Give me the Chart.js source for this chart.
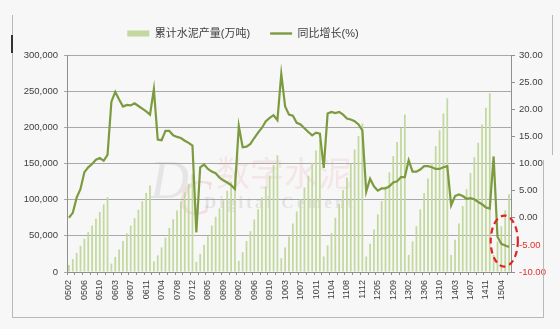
<!DOCTYPE html>
<html>
<head>
<meta charset="utf-8">
<script src="https://cdn.jsdelivr.net/npm/chart.js@4.4.0/dist/chart.umd.min.js"></script>
<style>
  html, body { margin: 0; padding: 0; background: #f7f7f7; }
  #wrap { position: relative; width: 560px; height: 329px; overflow: hidden; }
  .edge { position: absolute; background: #b9b9b9; }
</style>
</head>
<body>
<div id="wrap">
  <canvas id="cementChart" width="560" height="329"></canvas>
  <div class="edge" style="left:12px;top:15px;width:1px;height:302px"></div>
  <div class="edge" style="left:11px;top:35px;width:2px;height:18px;background:#333"></div>
  <div class="edge" style="left:12px;top:317px;width:532px;height:1px"></div>
  <div class="edge" style="left:552px;top:15px;width:1px;height:140px"></div>
  <div class="edge" style="left:543px;top:160px;width:1px;height:158px"></div>
</div>
<script>
// months reported (Jan is merged into Feb in the source data)
const years = ["05", "06", "07", "08", "09", "10", "11", "12", "13", "14"];
const fullMonths = ["02", "03", "04", "05", "06", "07", "08", "09", "10", "11", "12"];
const months2015 = ["02", "03", "04", "05", "06"];

// cumulative cement output, 10k tonnes
const prod2005 = [9800, 17700, 26300, 36200, 46000, 55000, 64200, 73500, 83000, 93500, 103500];
const prod2006 = [11600, 20900, 31200, 42800, 53500, 64200, 74400, 86100, 97700, 109300, 119600];
const prod2007 = [14500, 23000, 34000, 47500, 61000, 73000, 85000, 97500, 110000, 122000, 135000];
const prod2008 = [14000, 25100, 37700, 49300, 64200, 76300, 87900, 99100, 112100, 124700, 137000];
const prod2009 = [15400, 27300, 42800, 56500, 72500, 86600, 103000, 118000, 133500, 148000, 161500];
const prod2010 = [19100, 34000, 49000, 67000, 83600, 100500, 116800, 133100, 151000, 168000, 183000];
const prod2011 = [21400, 36800, 54000, 74900, 94500, 113500, 130800, 149400, 169400, 188000, 205200];
const prod2012 = [21400, 39100, 58600, 79600, 98200, 118200, 137800, 160100, 179700, 199200, 217800];
const prod2013 = [23700, 42300, 63300, 86600, 108900, 129400, 150800, 174000, 195900, 219200, 240100];
const prod2014 = [23700, 44700, 67000, 91200, 114500, 136800, 158700, 178700, 203800, 227100, 247100];
const prod2015 = [23500, 42000, 63300, 85200, 107500];

// year-on-year growth, %
const yoy2005 = [0.0, 0.9, 3.7, 5.3, 8.4, 9.3, 9.9, 10.7, 11.0, 10.5, 11.6];
const yoy2006 = [21.4, 23.2, 21.8, 20.5, 20.8, 20.7, 21.1, 20.6, 20.1, 19.6, 19.0];
const yoy2007 = [23.7, 14.4, 14.3, 16.0, 16.0, 15.2, 14.9, 14.7, 14.2, 13.8, 13.3];
const yoy2008 = [-2.7, 9.3, 9.8, 9.0, 8.5, 8.2, 7.4, 6.9, 6.5, 6.0, 5.3];
const yoy2009 = [16.9, 13.0, 13.1, 13.6, 14.7, 15.7, 16.6, 17.8, 18.4, 18.9, 18.0];
const yoy2010 = [26.5, 20.5, 19.0, 18.8, 17.5, 17.2, 16.5, 15.8, 15.2, 15.7, 15.5];
const yoy2011 = [9.2, 19.2, 19.5, 19.3, 19.5, 19.0, 18.3, 18.1, 17.8, 17.2, 16.1];
const yoy2012 = [4.8, 7.2, 5.8, 5.0, 5.4, 5.4, 5.8, 6.5, 6.7, 7.5, 7.5];
const yoy2013 = [10.6, 8.5, 8.5, 8.9, 9.5, 9.5, 9.3, 9.0, 9.0, 9.3, 9.5];
const yoy2014 = [2.3, 4.0, 4.3, 4.0, 3.5, 3.6, 3.4, 2.9, 2.5, 1.9, 1.7];
const yoy2015 = [11.3, -3.5, -4.8, -5.1, -5.4];

const leftTicks = { min: 0, max: 300000, step: 50000 };
const rightTicks = { min: -10, max: 30, step: 5 };

const labels = [];
years.forEach(y => fullMonths.forEach(m => labels.push(y + m)));
months2015.forEach(m => labels.push("15" + m));

const production = [].concat(prod2005, prod2006, prod2007, prod2008, prod2009, prod2010,
    prod2011, prod2012, prod2013, prod2014, prod2015);
const growth = [].concat(yoy2005, yoy2006, yoy2007, yoy2008, yoy2009, yoy2010,
    yoy2011, yoy2012, yoy2013, yoy2014, yoy2015);

const barColor = "#c2d89c";
const lineColor = "#7c9b3f";
const axisColor = "#8f8f8f";
const textColor = "#404040";
const font = "'Liberation Sans', 'Noto Sans CJK SC', sans-serif";

// legend spacing and position like the Excel original
const legendTweak = {
    id: "legendTweak",
    beforeInit(chart) {
        const fit = chart.legend.fit;
        chart.legend.fit = function () {
            fit.call(this);
            this.height += 6;
        };
    },
    afterLayout(chart) {
        chart.legend.left -= 37;
        chart.legend.right -= 37;
    }
};

// faint site watermark behind the data
const watermark = {
    id: "watermark",
    beforeDatasetsDraw(chart) {
        const ctx = chart.ctx;
        ctx.save();
        ctx.textBaseline = "alphabetic";
        ctx.fillStyle = "rgba(160,160,160,0.2)";
        ctx.font = "italic 54px 'Liberation Serif'";
        ctx.fillText("D", 150, 198);
        ctx.fillStyle = "rgba(225,120,135,0.2)";
        ctx.font = "italic 50px 'Liberation Serif'";
        ctx.fillText("C", 178, 214);
        ctx.font = "34px 'Noto Sans CJK SC'";
        ctx.fillStyle = "rgba(230,140,150,0.17)";
        ctx.fillText("数字水泥", 216, 186);
        ctx.font = "bold 17px 'Liberation Serif'";
        ctx.fillStyle = "rgba(150,150,150,0.2)";
        ctx.letterSpacing = "3px";
        ctx.fillText("Digital Cement", 204, 208);
        ctx.restore();
    }
};

// red dashed ring around the latest 2015 readings
const highlight = {
    id: "highlight",
    afterDatasetsDraw(chart) {
        const x = chart.scales.x;
        const y1 = chart.scales.y1;
        const cx = (x.getPixelForValue(112) + x.getPixelForValue(113)) / 2 + 1;
        const cy = y1.getPixelForValue(-4.3);
        const rx = x.getPixelForValue(113) - x.getPixelForValue(110) + 2;
        const ry = y1.getPixelForValue(-9) - cy;
        const ctx = chart.ctx;
        ctx.save();
        ctx.strokeStyle = "#e3231f";
        ctx.lineWidth = 2.2;
        ctx.setLineDash([6, 4]);
        ctx.beginPath();
        ctx.ellipse(cx, cy, rx, ry, 0, 0, Math.PI * 2);
        ctx.stroke();
        ctx.restore();
    }
};

new Chart(document.getElementById("cementChart").getContext("2d"), {
    data: {
        labels,
        datasets: [
            {
                type: "bar",
                label: "累计水泥产量(万吨)",
                data: production,
                backgroundColor: barColor,
                borderWidth: 0,
                barPercentage: 0.45,
                categoryPercentage: 1,
                yAxisID: "y",
                order: 1
            },
            {
                type: "line",
                label: "同比增长(%)",
                data: growth,
                borderColor: lineColor,
                borderWidth: 2.2,
                pointRadius: 0,
                pointBorderWidth: 2,
                pointBorderColor: lineColor,
                tension: 0,
                yAxisID: "y1",
                order: 0
            }
        ]
    },
    options: {
        responsive: false,
        animation: false,
        layout: { padding: { top: 8, left: 0, right: 0, bottom: 0 } },
        plugins: {
            tooltip: { enabled: false },
            legend: {
                position: "top",
                labels: {
                    usePointStyle: true,
                    pointStyleWidth: 22,
                    boxHeight: 6,
                    padding: 20,
                    color: textColor,
                    font: { size: 11, family: font },
                    sort: (a, b) => a.datasetIndex - b.datasetIndex,
                    generateLabels(chart) {
                        const items = Chart.defaults.plugins.legend.labels.generateLabels(chart);
                        items.forEach(it => {
                            const ds = chart.data.datasets[it.datasetIndex];
                            if (ds.type === "line") {
                                it.pointStyle = "line";
                                it.strokeStyle = lineColor;
                                it.lineWidth = 2.4;
                            } else {
                                it.pointStyle = "rect";
                                it.fillStyle = barColor;
                                it.lineWidth = 0;
                            }
                        });
                        return items;
                    }
                }
            }
        },
        scales: {
            x: {
                type: "category",
                offset: true,
                grid: {
                    offset: true,
                    drawOnChartArea: false,
                    tickLength: 3,
                    color: ctx => ctx.index % 2 === 0 ? axisColor : "rgba(0,0,0,0)"
                },
                border: { color: axisColor },
                ticks: {
                    autoSkip: false,
                    minRotation: 90,
                    maxRotation: 90,
                    padding: 5,
                    color: textColor,
                    font: { size: 9, family: font },
                    callback: function (v, i) {
                        return i % 4 === 0 ? this.getLabelForValue(v) : "";
                    }
                },
                afterFit: s => { s.height = 57; }
            },
            y: {
                position: "left",
                min: leftTicks.min,
                max: leftTicks.max,
                grid: { color: "#a9a9a9", tickLength: 3 },
                border: { color: axisColor },
                ticks: {
                    stepSize: leftTicks.step,
                    padding: 6,
                    color: textColor,
                    font: { size: 9.5, family: font },
                    callback: v => v.toLocaleString("en-US")
                },
                afterFit: s => { s.width = 67; }
            },
            y1: {
                position: "right",
                min: rightTicks.min,
                max: rightTicks.max,
                grid: { drawOnChartArea: false, tickLength: 4, color: axisColor },
                border: { color: axisColor },
                ticks: {
                    stepSize: rightTicks.step,
                    padding: 4,
                    color: ctx => ctx.tick.value < 0 ? "#e3312c" : textColor,
                    font: { size: 9.5, family: font },
                    callback: v => v.toFixed(2)
                },
                afterFit: s => { s.width = 49; }
            }
        }
    },
    plugins: [legendTweak, watermark, highlight]
});
</script>
</body>
</html>
